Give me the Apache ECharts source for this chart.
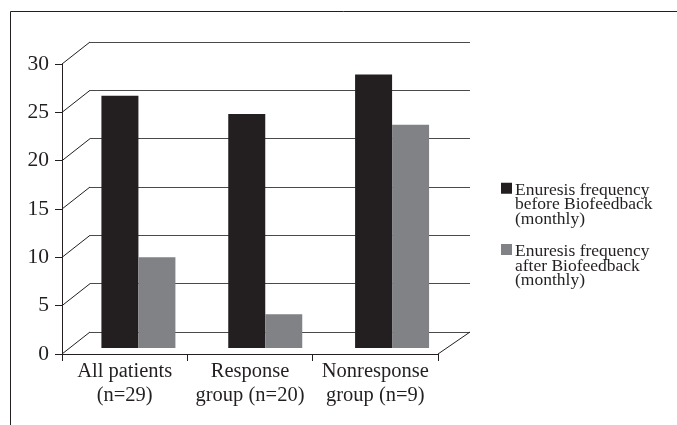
<!DOCTYPE html>
<html>
<head>
<meta charset="utf-8">
<script src="https://cdn.jsdelivr.net/npm/echarts@6/dist/echarts.min.js"></script>
<style>html,body{margin:0;padding:0;background:#fff}#c{width:677px;height:425px}</style>
</head>
<body>
<div id="c"></div>
<script>
var categories = ['All patients\n(n=29)', 'Response\ngroup (n=20)', 'Nonresponse\ngroup (n=9)'];
var seriesNames = ['Enuresis frequency\nbefore Biofeedback\n(monthly)', 'Enuresis frequency\nafter Biofeedback\n(monthly)'];
var beforeValues = [26.1, 24.2, 28.3];
var afterValues = [9.4, 3.5, 23.1];
var yMin = 0, yMax = 30, yStep = 5;

var FONT = "'Liberation Serif', 'Times New Roman', serif";
var chart = echarts.init(document.getElementById('c'), null, {renderer: 'canvas'});

var legendIcon = 'path://M0,0H11V11H0Z M0,44H0.01V43.99Z';

var option = {
  animation: false,
  backgroundColor: '#ffffff',
  textStyle: {fontFamily: FONT},
  grid: [
    {left: 62, right: 239, top: 64, bottom: 71},   // front plane (axes)
    {left: 90, right: 207, top: 42, bottom: 93},   // back wall
    {left: 75, right: 221.5, top: 58, bottom: 77}  // bars
  ],
  xAxis: [
    {type: 'category', gridIndex: 0, data: categories, boundaryGap: true,
     axisLine: {lineStyle: {color: '#231f20', width: 1}},
     axisTick: {show: true, alignWithLabel: false, length: 7, lineStyle: {color: '#231f20'}},
     axisLabel: {color: '#231f20', fontSize: 20.5, lineHeight: 24, margin: 6, fontFamily: FONT, interval: 0},
     splitLine: {show: false}},
    {type: 'value', gridIndex: 1, min: 0, max: 1, show: false},
    {type: 'value', gridIndex: 0, min: 0, max: 1, show: false},
    {type: 'category', gridIndex: 2, data: categories, show: false}
  ],
  yAxis: [
    {type: 'value', gridIndex: 0, min: yMin, max: yMax, interval: yStep,
     axisLine: {show: true, lineStyle: {color: '#231f20', width: 1}},
     axisTick: {show: true, length: 7, lineStyle: {color: '#231f20'}},
     axisLabel: {color: '#231f20', fontSize: 21.5, margin: 13, fontFamily: FONT},
     splitLine: {show: false}},
    {type: 'value', gridIndex: 1, min: yMin, max: yMax, interval: yStep,
     axisLine: {show: false}, axisTick: {show: false}, axisLabel: {show: false},
     splitLine: {show: true, lineStyle: {color: '#4a4a4a', width: 1}}},
    {type: 'value', gridIndex: 2, min: yMin, max: yMax, interval: yStep, show: false,
     splitLine: {show: false}}
  ],
  legend: {
    orient: 'vertical',
    left: 501, top: 181, padding: 0,
    itemWidth: 11, itemHeight: 44, itemGap: 14,
    icon: legendIcon,
    textStyle: {fontFamily: FONT, fontSize: 17.5, lineHeight: 14.7, color: '#231f20', padding: [0, 0, 0, -2]},
    data: seriesNames
  },
  series: [
    {name: seriesNames[0], type: 'bar', xAxisIndex: 3, yAxisIndex: 2, data: beforeValues,
     barWidth: 37, barGap: '0%', itemStyle: {color: '#231f20'}},
    {name: seriesNames[1], type: 'bar', xAxisIndex: 3, yAxisIndex: 2, data: afterValues,
     barWidth: 37, barGap: '0%', itemStyle: {color: '#808285'}}
  ]
};
chart.setOption(option);

// Depth connectors computed from the front and back axis scales
var graphics = [];
var ticks = [];
for (var v = yMin; v <= yMax; v += yStep) ticks.push(v);
ticks.forEach(function (t) {
  var f = chart.convertToPixel({xAxisIndex: 2, yAxisIndex: 0}, [0, t]);
  var b = chart.convertToPixel({xAxisIndex: 1, yAxisIndex: 1}, [0, t]);
  graphics.push({type: 'line', shape: {x1: f[0], y1: f[1], x2: b[0], y2: b[1]},
    style: {stroke: '#231f20', lineWidth: 1}, z: 10});
});
var fr = chart.convertToPixel({xAxisIndex: 2, yAxisIndex: 0}, [1, yMin]);
var br = chart.convertToPixel({xAxisIndex: 1, yAxisIndex: 1}, [1, yMin]);
graphics.push({type: 'line', shape: {x1: fr[0], y1: fr[1], x2: br[0], y2: br[1]},
  style: {stroke: '#231f20', lineWidth: 1}, z: 10});
// outer frame (top and left edges)
graphics.push({type: 'polyline', shape: {points: [[10.5, 425], [10.5, 11.5], [677, 11.5]]},
  style: {stroke: '#231f20', lineWidth: 1, fill: null}, z: 10});
chart.setOption({graphic: graphics});
</script>
</body>
</html>
